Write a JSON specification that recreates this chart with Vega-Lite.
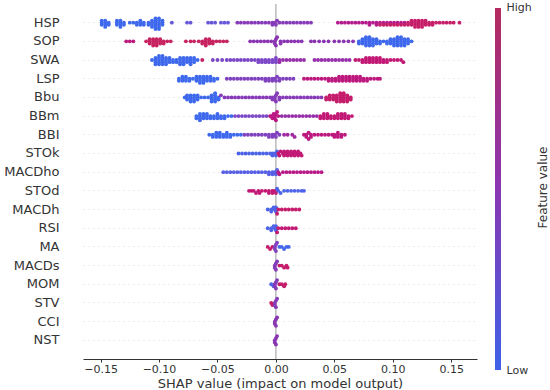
{
  "$schema": "https://vega.github.io/schema/vega-lite/v6.json",
  "padding": {"left": 3, "top": 1, "right": 0, "bottom": 0},
  "background": "white",
  "config": {"font": "DejaVu Sans", "view": {"stroke": null}, "concat": {"spacing": 18}},
  "datasets": {
    "shap": [
      {"f":"HSP","c":0.03,"xs":[-0.149,-0.149,-0.149,-0.146,-0.146,-0.146,-0.146,-0.143,-0.143,-0.136,-0.136,-0.136,-0.133,-0.133,-0.133,-0.133,-0.130,-0.130,-0.125,-0.122,-0.119,-0.119,-0.116,-0.116,-0.116,-0.113,-0.113,-0.109,-0.109,-0.106,-0.106,-0.106,-0.106,-0.103,-0.103,-0.103,-0.103,-0.103,-0.103,-0.100,-0.100,-0.100,-0.100,-0.100,-0.100,-0.097,-0.097,-0.097]},
      {"f":"HSP","c":0.2,"xs":[-0.089,-0.076,-0.073,-0.058,-0.055,-0.052,-0.047,-0.044,-0.041]},
      {"f":"HSP","c":0.45,"xs":[-0.033,-0.030,-0.027,-0.024,-0.021,-0.018,-0.015,-0.012,-0.009,-0.006,-0.003,-0.003,-0.001,0,0.001,0.003,0.006,0.009,0.012,0.015,0.018,0.021,0.024,0.027,0.030]},
      {"f":"HSP","c":0.72,"xs":[0.053,0.056,0.059,0.062,0.065,0.068,0.071,0.074,0.077,0.080,0.080,0.083,0.086,0.086,0.089,0.092,0.095,0.098,0.101,0.104,0.107,0.110]},
      {"f":"HSP","c":0.92,"xs":[0.089,0.092,0.095,0.098,0.101,0.104,0.107,0.110,0.113,0.113,0.116,0.116,0.116,0.119,0.119,0.119,0.119,0.122,0.122,0.122,0.122,0.125,0.125,0.125,0.125,0.128,0.128,0.128,0.131,0.131,0.134,0.134,0.137,0.140,0.143,0.146,0.149,0.152,0.157]},
      {"f":"SOP","c":0.8,"xs":[-0.128,-0.125,-0.122]},
      {"f":"SOP","c":0.96,"xs":[-0.111,-0.108,-0.108,-0.108,-0.105,-0.105,-0.105,-0.105,-0.102,-0.102,-0.102,-0.102,-0.099,-0.099,-0.099,-0.096,-0.096,-0.093,-0.090,-0.077,-0.073,-0.070,-0.066,-0.063,-0.063,-0.060,-0.060,-0.060,-0.060,-0.057,-0.057,-0.057,-0.054,-0.054,-0.051,-0.048,-0.045,-0.042]},
      {"f":"SOP","c":0.5,"xs":[-0.022,-0.019,-0.016,-0.013,-0.010,-0.007,-0.004,-0.001,-0.001,0,0,0.001,0.004,0.004,0.007,0.010,0.013,0.016,0.019,0.022,0.030,0.033,0.037,0.041,0.045,0.050,0.054,0.058,0.062,0.066]},
      {"f":"SOP","c":0.03,"xs":[0.071,0.071,0.074,0.074,0.074,0.077,0.077,0.077,0.077,0.077,0.080,0.080,0.080,0.080,0.080,0.083,0.083,0.083,0.083,0.086,0.086,0.086,0.089,0.089,0.092,0.095,0.095,0.098,0.098,0.098,0.101,0.101,0.101,0.101,0.104,0.104,0.104,0.104,0.104,0.107,0.107,0.107,0.107,0.107,0.110,0.110,0.110,0.110,0.113,0.113,0.113,0.116]},
      {"f":"SWA","c":0.03,"xs":[-0.106,-0.103,-0.103,-0.103,-0.103,-0.100,-0.100,-0.100,-0.100,-0.100,-0.097,-0.097,-0.097,-0.097,-0.097,-0.094,-0.094,-0.094,-0.094,-0.091,-0.091,-0.091,-0.088,-0.088,-0.085,-0.085,-0.082,-0.082,-0.082,-0.082,-0.079,-0.079,-0.079,-0.079,-0.076,-0.076,-0.076,-0.073,-0.073,-0.073,-0.073,-0.070,-0.070,-0.070,-0.067]},
      {"f":"SWA","c":0.95,"xs":[-0.063]},
      {"f":"SWA","c":0.35,"xs":[-0.054,-0.050,-0.046,-0.042,-0.039,-0.036,-0.033,-0.030,-0.027,-0.024,-0.021,-0.018,-0.015,-0.015,-0.012,-0.012,-0.009,-0.009,-0.006,-0.006,-0.003,-0.003,0,0,0]},
      {"f":"SWA","c":0.55,"xs":[0.003,0.003,0.006,0.009,0.012,0.015,0.018,0.021,0.024,0.033,0.036,0.039,0.042,0.045,0.048,0.051,0.054,0.057,0.060,0.063]},
      {"f":"SWA","c":0.85,"xs":[0.068,0.071,0.074,0.074,0.077,0.077,0.077,0.080,0.080,0.080,0.083,0.083,0.083,0.086,0.086,0.086,0.089,0.089,0.089,0.092,0.092,0.095,0.095,0.098,0.101,0.104,0.107,0.109]},
      {"f":"LSP","c":0.03,"xs":[-0.083,-0.083,-0.080,-0.080,-0.080,-0.077,-0.077,-0.077,-0.074,-0.074,-0.071,-0.068,-0.068,-0.068,-0.065,-0.065,-0.065,-0.065,-0.062,-0.062,-0.062,-0.062,-0.059,-0.059,-0.059,-0.056,-0.056,-0.056,-0.053,-0.053,-0.050]},
      {"f":"LSP","c":0.4,"xs":[-0.042,-0.039,-0.036,-0.033,-0.030,-0.027,-0.024,-0.021,-0.018,-0.015,-0.012,-0.009,-0.009,-0.006,-0.006,-0.003,-0.003,-0.001,0,0.001,0.003,0.003,0.006,0.009,0.012,0.015]},
      {"f":"LSP","c":0.8,"xs":[0.024,0.027,0.030,0.033,0.036,0.039,0.042,0.045,0.045,0.048,0.048,0.051,0.051,0.054,0.054,0.054,0.057,0.057,0.057,0.060,0.060,0.060,0.063,0.063,0.063,0.066,0.066,0.066,0.069,0.069,0.069,0.072,0.072,0.072,0.075,0.075,0.078,0.078,0.081,0.084,0.087,0.089]},
      {"f":"Bbu","c":0.03,"xs":[-0.078,-0.076,-0.076,-0.076,-0.073,-0.073,-0.073,-0.073,-0.070,-0.070,-0.070,-0.070,-0.067,-0.067,-0.067,-0.064,-0.061,-0.058,-0.055,-0.055,-0.055,-0.055,-0.052,-0.052,-0.052,-0.052,-0.052,-0.049,-0.049]},
      {"f":"Bbu","c":0.45,"xs":[-0.047,-0.044,-0.041,-0.038,-0.035,-0.032,-0.029,-0.026,-0.023,-0.020,-0.017,-0.014,-0.011,-0.008,-0.005,-0.003,-0.003,-0.001,-0.001,0,0,0.001,0.003,0.003,0.006,0.009,0.012,0.015,0.018,0.021,0.024,0.027,0.030,0.033,0.036,0.039]},
      {"f":"Bbu","c":0.9,"xs":[0.043,0.043,0.046,0.046,0.046,0.049,0.049,0.049,0.052,0.052,0.052,0.052,0.055,0.055,0.055,0.055,0.055,0.058,0.058,0.058,0.058,0.058,0.061,0.061,0.061,0.061,0.064,0.064]},
      {"f":"BBm","c":0.03,"xs":[-0.068,-0.068,-0.065,-0.065,-0.065,-0.065,-0.062,-0.062,-0.062,-0.059,-0.059,-0.059,-0.056,-0.056,-0.053,-0.053,-0.050,-0.050,-0.050,-0.047,-0.047,-0.044,-0.044,-0.041,-0.038]},
      {"f":"BBm","c":0.35,"xs":[-0.035,-0.032,-0.029,-0.026,-0.023,-0.020,-0.017,-0.014,-0.011,-0.008]},
      {"f":"BBm","c":0.78,"xs":[-0.005,-0.004,-0.003,-0.002,-0.001,-0.001,0,0,0.001,0.002]},
      {"f":"BBm","c":0.55,"xs":[0.005,0.008,0.011,0.014,0.017,0.020,0.023,0.026,0.029,0.032,0.035]},
      {"f":"BBm","c":0.85,"xs":[0.038,0.038,0.041,0.041,0.041,0.044,0.044,0.044,0.047,0.047,0.050,0.050,0.053,0.053,0.053,0.056,0.056,0.056,0.059,0.059,0.059,0.062,0.062,0.065]},
      {"f":"BBI","c":0.03,"xs":[-0.057,-0.054,-0.054,-0.051,-0.051,-0.051,-0.048,-0.048,-0.048,-0.045,-0.045,-0.042,-0.042,-0.042,-0.039,-0.039,-0.036,-0.033,-0.030]},
      {"f":"BBI","c":0.4,"xs":[-0.027,-0.024,-0.021,-0.018,-0.015,-0.012,-0.009,-0.006,-0.006,-0.003,-0.003,-0.001,0,0.001,0.003]},
      {"f":"BBI","c":0.6,"xs":[0.007,0.010,0.014,0.016]},
      {"f":"BBI","c":0.8,"xs":[0.024,0.026,0.026,0.028,0.028,0.030,0.030,0.033,0.036,0.039,0.042,0.045,0.048,0.050,0.050,0.053,0.053,0.053,0.056,0.056,0.059]},
      {"f":"STOk","c":0.08,"xs":[-0.032,-0.029,-0.026,-0.023,-0.020,-0.017,-0.014,-0.011,-0.008,-0.005,-0.003,-0.003,-0.001,0,0.001]},
      {"f":"STOk","c":0.85,"xs":[0.002,0.003,0.004,0.006,0.007,0.007,0.009,0.010,0.010,0.012,0.013,0.013,0.015,0.016,0.016,0.018,0.019,0.019,0.021,0.022]},
      {"f":"MACDho","c":0.12,"xs":[-0.045,-0.042,-0.039,-0.036,-0.033,-0.030,-0.027,-0.024,-0.021,-0.018,-0.015,-0.012,-0.009,-0.006,-0.006,-0.003,-0.003,-0.001,0,0.001]},
      {"f":"MACDho","c":0.75,"xs":[0.002,0.003,0.006,0.009,0.012,0.015,0.018,0.021,0.024,0.027,0.030,0.033,0.036,0.039]},
      {"f":"STOd","c":0.85,"xs":[-0.023,-0.021,-0.019,-0.017,-0.015,-0.014,-0.012,-0.009,-0.006,-0.006,-0.003,-0.003,-0.001,0]},
      {"f":"STOd","c":0.08,"xs":[0.001,0.002,0.004,0.007,0.010,0.013,0.016,0.019,0.022,0.024]},
      {"f":"MACDh","c":0.08,"xs":[-0.007,-0.004,-0.004,-0.002,-0.001,0,0]},
      {"f":"MACDh","c":0.9,"xs":[0.001,0.002,0.005,0.008,0.011,0.014,0.017,0.020]},
      {"f":"RSI","c":0.08,"xs":[-0.007,-0.004,-0.004,-0.002,-0.001,0,0]},
      {"f":"RSI","c":0.85,"xs":[0.001,0.002,0.005,0.008,0.011,0.014,0.017]},
      {"f":"MA","c":0.9,"xs":[-0.007,-0.005,-0.003]},
      {"f":"MA","c":0.4,"xs":[-0.001,-0.001,0,0,0.001]},
      {"f":"MA","c":0.05,"xs":[0.003,0.005,0.007,0.009,0.011]},
      {"f":"MACDs","c":0.45,"xs":[-0.001,-0.001,0,0,0.001]},
      {"f":"MACDs","c":0.9,"xs":[0.003,0.005,0.007,0.009,0.010]},
      {"f":"MOM","c":0.08,"xs":[-0.004,-0.002]},
      {"f":"MOM","c":0.45,"xs":[-0.001,-0.001,0,0,0.001]},
      {"f":"MOM","c":0.9,"xs":[0.003,0.005,0.007,0.008]},
      {"f":"STV","c":0.9,"xs":[-0.004,-0.003]},
      {"f":"STV","c":0.45,"xs":[-0.001,-0.001,0,0,0.001]},
      {"f":"CCI","c":0.5,"xs":[-0.001,-0.001,0,0,0.001]},
      {"f":"NST","c":0.5,"xs":[-0.001,-0.001,0,0,0.001]}
    ],
    "bar": [{"lo": 0, "hi": 1}]
  },
  "hconcat": [
    {
      "width": 394,
      "height": 355,
      "layer": [
        {
          "data": {"values": [{"z": 0}]},
          "mark": {"type": "rule", "color": "#999999", "strokeWidth": 1},
          "encoding": {"x": {"field": "z", "type": "quantitative", "scale": {"domain": [-0.165, 0.172], "nice": false, "zero": false}}}
        },
        {
          "data": {"name": "shap"},
          "transform": [
            {"flatten": ["xs"], "as": ["x"]},
            {"calculate": "round(datum.x / 0.003)", "as": "bx"},
            {"window": [{"op": "row_number", "as": "k"}], "groupby": ["f", "bx"]},
            {"calculate": "(datum.k % 2 == 0 ? 1 : -1) * floor(datum.k / 2) * 2.1", "as": "yo"}
          ],
          "mark": {"type": "circle", "size": 15, "opacity": 1},
          "encoding": {
            "x": {
              "field": "x", "type": "quantitative",
              "scale": {"domain": [-0.165, 0.172], "nice": false, "zero": false},
              "axis": {
                "values": [-0.15, -0.1, -0.05, 0, 0.05, 0.1, 0.15],
                "format": ".2f",
                "title": "SHAP value (impact on model output)",
                "grid": false,
                "domainColor": "#333333",
                "tickColor": "#333333",
                "tickSize": 3,
                "labelFontSize": 11,
                "labelColor": "#333333",
                "labelPadding": 1,
                "titleFontSize": 13,
                "titleFontWeight": "normal",
                "titleColor": "#333333",
                "titlePadding": 3
              }
            },
            "y": {
              "field": "f", "type": "nominal",
              "sort": ["HSP","SOP","SWA","LSP","Bbu","BBm","BBI","STOk","MACDho","STOd","MACDh","RSI","MA","MACDs","MOM","STV","CCI","NST"],
              "scale": {"paddingInner": 0, "paddingOuter": 0.5},
              "axis": {
                "title": null,
                "domain": false,
                "ticks": false,
                "labelFontSize": 13,
                "labelColor": "#333333",
                "labelPadding": 24,
                "grid": true,
                "bandPosition": 0.5,
                "gridColor": "#c8c8c8",
                "gridWidth": 0.7,
                "gridDash": [1, 4]
              }
            },
            "yOffset": {"field": "yo", "type": "quantitative", "scale": {"domain": [-9.35, 9.35], "nice": false, "zero": false}},
            "color": {
              "field": "c", "type": "quantitative",
              "scale": {"domain": [0, 0.5, 1], "range": ["#346cf0", "#8a36b2", "#c8285a"]},
              "legend": null
            }
          }
        }
      ]
    },
    {
      "width": 6,
      "height": 366,
      "data": {"name": "bar"},
      "mark": {
        "type": "rect",
        "color": {
          "gradient": "linear", "x1": 0, "y1": 1, "x2": 0, "y2": 0,
          "stops": [
            {"offset": 0, "color": "#3d62e8"},
            {"offset": 0.5, "color": "#8a36b2"},
            {"offset": 1, "color": "#b42a5e"}
          ]
        }
      },
      "encoding": {
        "y": {
          "field": "lo", "type": "quantitative",
          "scale": {"domain": [0, 1.011], "nice": false, "zero": false},
          "axis": {
            "orient": "right",
            "values": [0, 1],
            "labelExpr": "datum.value == 1 ? 'High' : 'Low'",
            "ticks": false,
            "domain": false,
            "grid": false,
            "labelFontSize": 11,
            "labelColor": "#333333",
            "labelPadding": 5,
            "title": "Feature value",
            "titleAngle": 270,
            "titleFontSize": 12,
            "titleFontWeight": "normal",
            "titleColor": "#333333",
            "titlePadding": 18
          }
        },
        "y2": {"field": "hi"}
      }
    }
  ]
}
